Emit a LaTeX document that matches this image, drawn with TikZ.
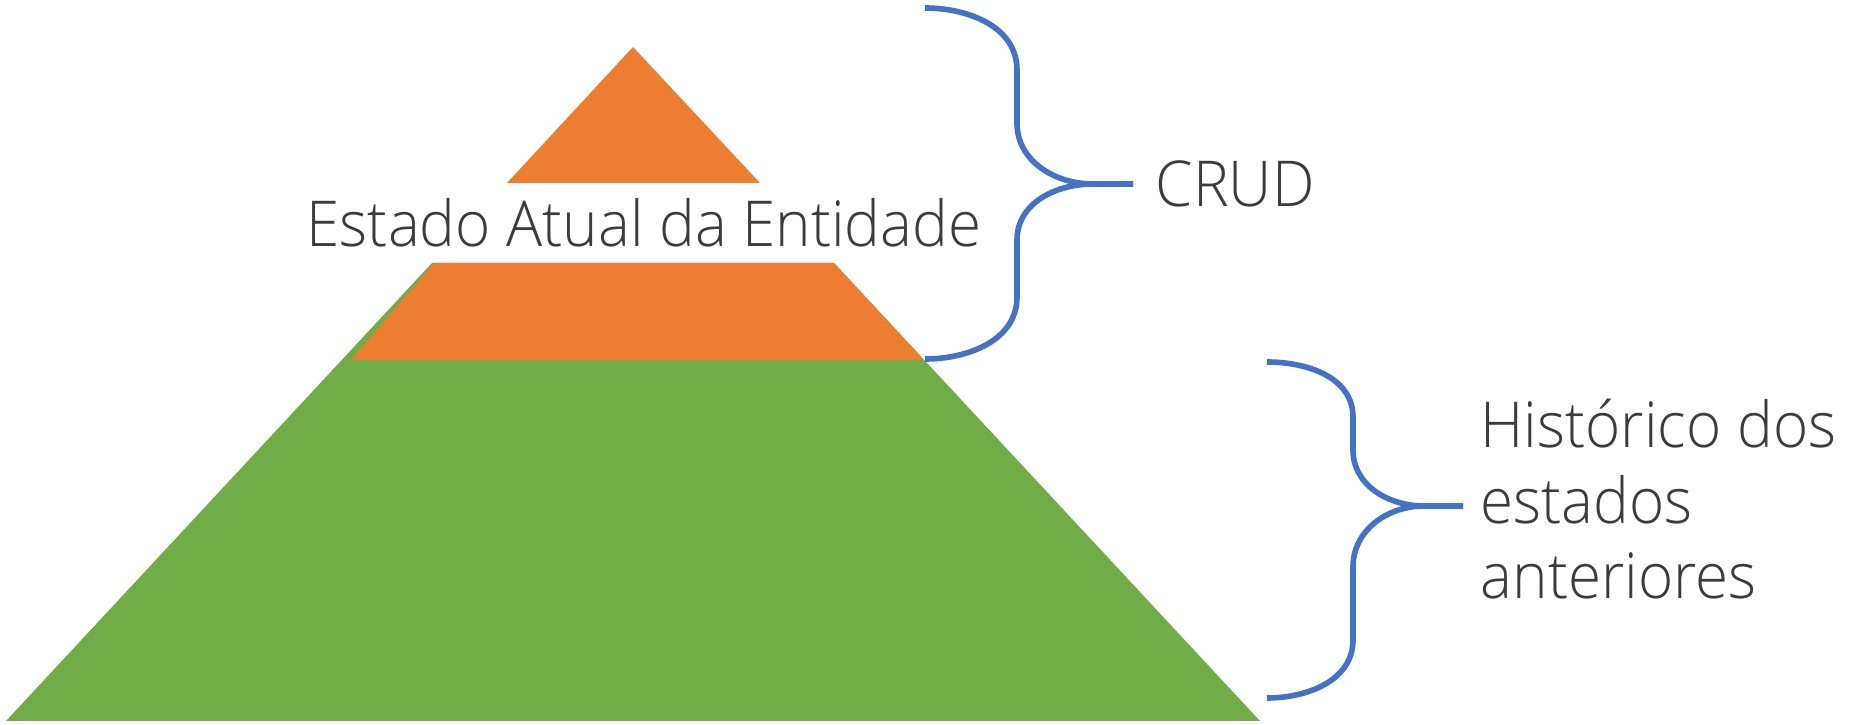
\documentclass[tikz,border=0pt]{standalone}
\usepackage{fontspec}
\setmainfont{Open Sans Light}[FakeStretch=0.95]
\definecolor{pyrorange}{HTML}{ED7D31}
\definecolor{pyrgreen}{HTML}{70AD47}
\definecolor{braceblue}{HTML}{4472C4}
\definecolor{textgray}{HTML}{3C3C3C}
\begin{document}
\begin{tikzpicture}
	[x=0.01cm,y=-0.01cm,
	 label/.style={font=\fontsize{18}{21.6}\selectfont,text=textgray,inner sep=0pt},
	 brace/.style={draw=braceblue,line width=1.6pt}]
    \useasboundingbox (0,0) rectangle (1853,725);

    % pyramid
    \fill[pyrgreen] (432,263) -- (834,263) -- (1260,721) -- (6,721) -- cycle;
    \fill[pyrorange] (434,263) -- (834,263) -- (924,360) -- (351,360) -- cycle;
    \fill[pyrorange] (633,47) -- (760,183) -- (507,183) -- cycle;

    \node[label,anchor=base] (estado) at (644,247) {Estado Atual da Entidade};

    % CRUD brace
    \coordinate (c1) at (925,8);
    \coordinate (c2) at (925,359);
    \coordinate (ctip) at (1133,184);
    \draw[brace] (c1) to[out=0,in=90] (1017,70) -- (1017,123)
        to[out=-90,in=180] (1093,184) -- (ctip);
    \draw[brace] (ctip) -- (1093,184) to[out=180,in=90] (1017,240)
        -- (1017,297) to[out=-90,in=0] (c2);
    \node[label,anchor=base west] (crud) at (1155,207) {CRUD};

    % historico brace
    \coordinate (h1) at (1267,362);
    \coordinate (h2) at (1267,698);
    \coordinate (htip) at (1463,506);
    \draw[brace] (h1) to[out=0,in=90] (1353,417) -- (1353,450)
        to[out=-90,in=180] (1424,506) -- (htip);
    \draw[brace] (htip) -- (1424,506) to[out=180,in=90] (1353,567)
        -- (1353,640) to[out=-90,in=0] (h2);
    \node[label,anchor=base west,align=left] (hist) at (1480,599)
        {Histórico dos\\estados\\anteriores};

\end{tikzpicture}
\end{document}
